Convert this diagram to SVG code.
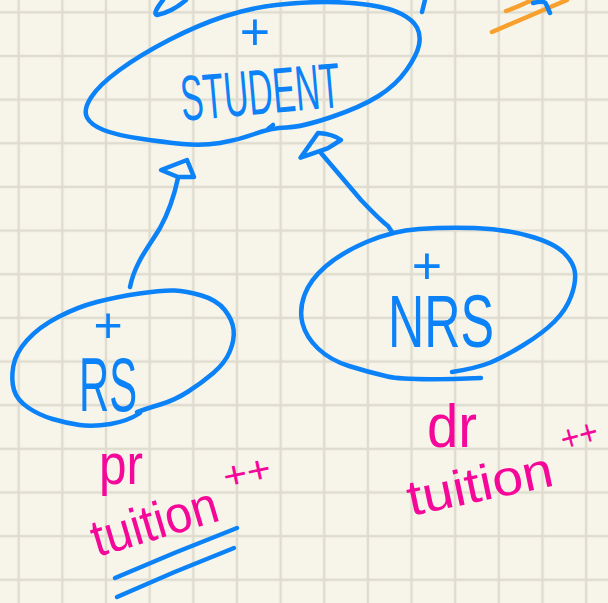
<svg xmlns="http://www.w3.org/2000/svg" width="608" height="603" viewBox="0 0 608 603">
<defs>
<style>
.bg{fill:#f7f5ea}
.grid{stroke:#dfdccf;stroke-width:2.5;fill:none}
.ink{fill:none;stroke:#0b82f7;stroke-width:4.5;stroke-linecap:round;stroke-linejoin:round}
.orange{fill:none;stroke:#f7a02e;stroke-width:4.5;stroke-linecap:round;stroke-linejoin:round}
.bt{fill:#0b82f7;font-family:"Liberation Sans","DejaVu Sans",sans-serif}
.mt{fill:#f5079a;font-family:"Liberation Sans","DejaVu Sans",sans-serif}
</style>
<pattern id="gp" x="-3.1" y="-9.5" width="43.65" height="43.65" patternUnits="userSpaceOnUse">
<path class="grid" d="M21.8,0 V43.65 M0,21.8 H43.65"/>
</pattern>
</defs>
<rect class="bg" x="0" y="0" width="608" height="603"/>
<rect x="0" y="0" width="608" height="603" fill="url(#gp)"/>

<g id="top-marks">
<path class="ink" d="M163,0 Q152,14 157,15 Q172,12 186,0"/>
<path class="ink" d="M425,0 L422,12"/>
<path class="orange" d="M492,32 L567,0"/>
<path class="orange" d="M506,11 Q520,6 532,0"/>
<path class="ink" d="M533,3 Q545,0 546,4 L550,13"/>
</g>

<g id="student">
<path class="ink" d="M286.5,127.5 Q302,127 331.5,117 Q361,107 378.5,96 Q396,85 406.5,70 Q417,55 419,45 Q421,35 417,27.5 Q413,20 401.5,14 Q390,8 369.5,5 Q349,2 325.5,2 Q302,2 276,5 Q250,8 224,16.5 Q198,25 169,40 Q140,55 119.5,70 Q99,85 91,97.5 Q83,110 87,117.5 Q91,125 103.5,130 Q116,135 139.5,138.5 Q163,142 182.5,144 Q202,146 220,143 Q238,140 254.5,134 Q271,128 286.5,127.5"/>
<path class="ink" d="M268,129 L273,125"/>
<text class="bt" x="255" y="50" font-size="52" text-anchor="middle">+</text>
<text class="bt" x="180" y="114" font-size="64" textLength="160" lengthAdjust="spacingAndGlyphs" transform="rotate(-5 260 88)">STUDENT</text>
</g>

<g id="rs">
<path class="ink" d="M140,413 Q128,421 110.5,424 Q93,427 79.5,425 Q66,423 52.5,419 Q39,415 28,407.5 Q17,400 14,390 Q11,380 13.25,366.5 Q15.5,353 27.25,340 Q39,327 58.25,317 Q77.5,307 96.75,302 Q116,297 139.5,293.5 Q163,290 174.5,290.5 Q186,291 201.5,295.5 Q217,300 224.8,310 Q232.6,320 233.6,330 Q234.6,340 229.8,351.5 Q225,363 213.3,373 Q201.6,383 188.3,391.5 Q175,400 161,404.25 Q147,408.5 137,412"/>
<text class="bt" x="108" y="342" font-size="50" text-anchor="middle">+</text>
<text class="bt" x="79" y="411" font-size="76" textLength="58" lengthAdjust="spacingAndGlyphs">RS</text>
</g>

<g id="nrs">
<path class="ink" d="M481,378 Q407,381 387.5,376.5 Q368,372 349,366 Q330,360 318,348.5 Q306,337 302.5,323.5 Q299,310 304.5,295 Q310,280 325.5,266.5 Q341,253 366.5,242 Q392,231 419,229 Q446,227 475,228 Q504,229 529,236 Q554,243 564,253 Q574,263 575,273 Q576,283 571,296.5 Q566,310 554.5,321.5 Q543,333 523.5,345 Q504,357 490.5,362.5 Q477,368 452,372"/>
<text class="bt" x="427" y="284" font-size="52" text-anchor="middle">+</text>
<text class="bt" x="388" y="347" font-size="74" textLength="106" lengthAdjust="spacingAndGlyphs">NRS</text>
</g>

<g id="connectors">
<path class="ink" d="M130,287 C135,262 150,245 160,228 C170,210 175,192 178,178"/>
<path class="ink" d="M178,177 L194,177 L187,160 L161,170 Z"/>
<path class="ink" d="M321,153 L361,200 Q380,220 388,226 L392,232"/>
<path class="ink" d="M300.5,157.7 L327.6,148.3 L341,140 Q333,134 318,133 Z"/>
</g>

<g id="rs-notes">
<text class="mt" x="99" y="484" font-size="58" textLength="44" lengthAdjust="spacingAndGlyphs">pr</text>
<text class="mt" x="97" y="557" font-size="52" textLength="130" lengthAdjust="spacingAndGlyphs" transform="rotate(-16.5 97 557)">tuition</text>
<text class="mt" x="226" y="490" font-size="38" textLength="48" lengthAdjust="spacingAndGlyphs" transform="rotate(-12 226 490)">++</text>
<path class="ink" d="M115,578 Q175,552 237,528"/>
<path class="ink" d="M117,597 Q175,571 234,548"/>
</g>

<g id="nrs-notes">
<text class="mt" x="427" y="447" font-size="62" textLength="50" lengthAdjust="spacingAndGlyphs">dr</text>
<text class="mt" x="411" y="516" font-size="50" textLength="148" lengthAdjust="spacingAndGlyphs" transform="rotate(-12 411 516)">tuition</text>
<text class="mt" x="564" y="452" font-size="36" textLength="38" lengthAdjust="spacingAndGlyphs" transform="rotate(-15 564 452)">++</text>
</g>
</svg>
